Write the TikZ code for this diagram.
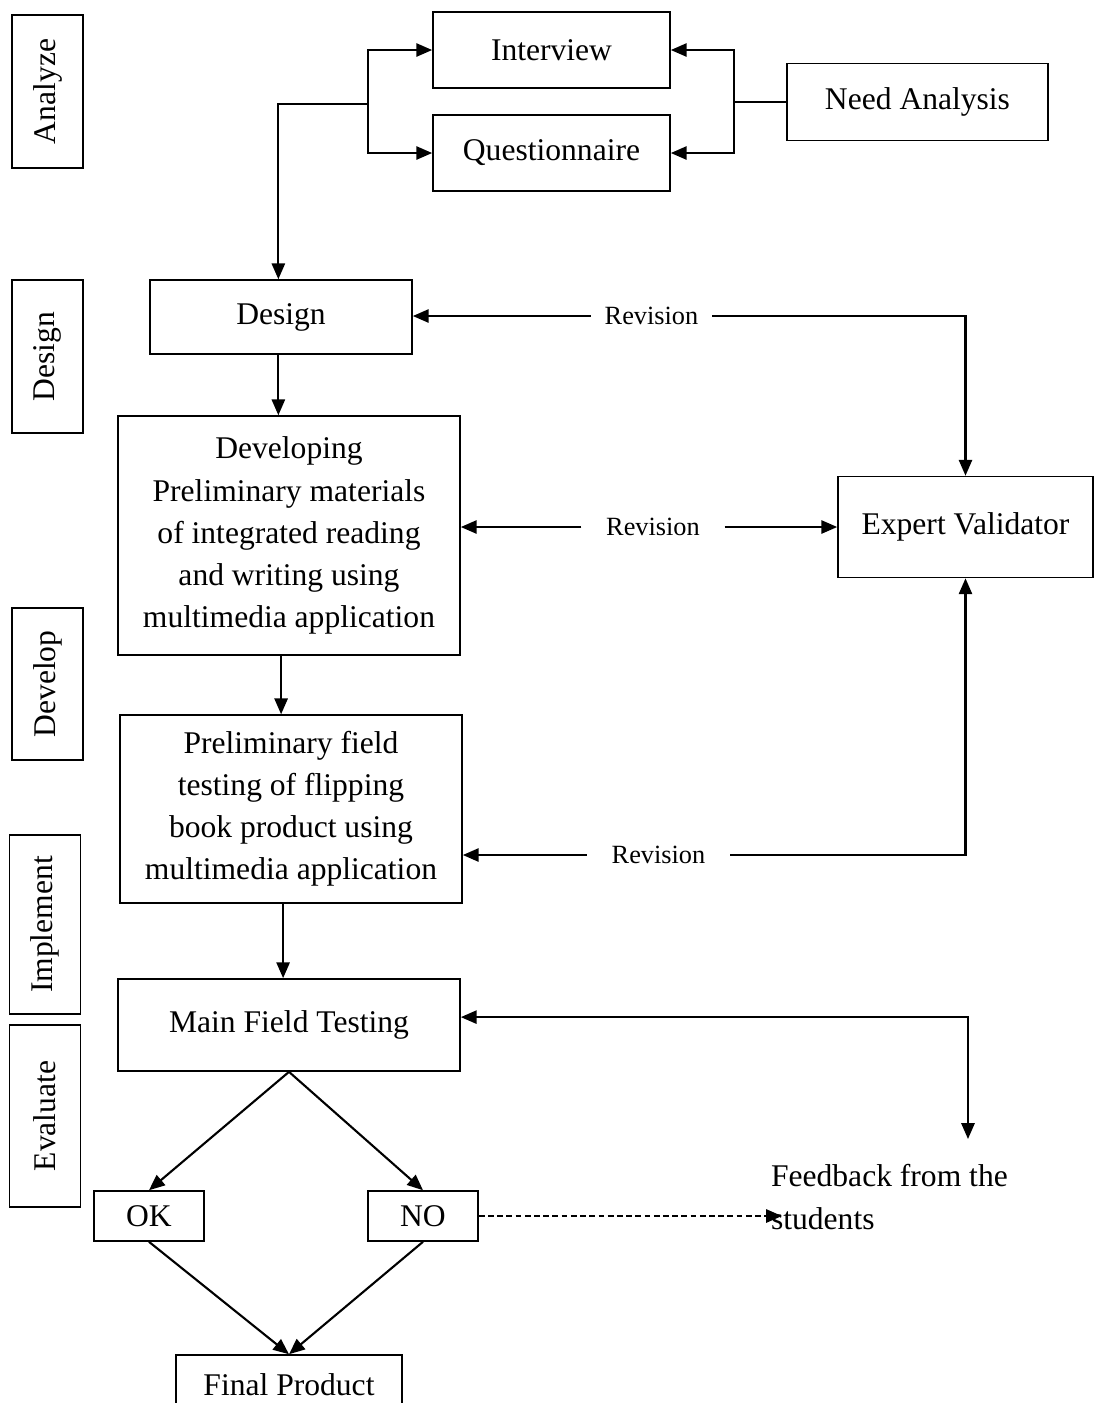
\documentclass[tikz,border=0pt]{standalone}
\usepackage{fontspec}
\setmainfont{Liberation Serif}
\usetikzlibrary{arrows.meta}

\begin{document}
\begin{tikzpicture}[x=0.38pt, y=-0.38pt, line width=0.8pt,
  >={Triangle[length=6pt, width=5pt]},
  box/.style={draw, line width=0.6pt, align=center, inner sep=2pt, font=\fontsize{12}{16}\selectfont},
  phase/.style={draw, line width=0.6pt, rotate=90, minimum height=27pt, inner sep=0pt, font=\fontsize{12}{14}\selectfont},
  revlabel/.style={inner ysep=2pt, inner xsep=9pt, font=\fontsize{10}{12}\selectfont}]
\useasboundingbox (0,0) rectangle (1094,1403);

% phases
  \node[phase, minimum width=58.1pt] (analyzeph) at (47.5,91.5) {Analyze};
  \node[phase, minimum width=58.1pt] (designph) at (47.5,356.5) {Design};
  \node[phase, minimum width=57.8pt] (developph) at (47.5,684) {Develop};
  \node[phase, minimum width=68pt] (implementph) at (45,924.5) {Implement};
  \node[phase, minimum width=69.2pt] (evaluateph) at (45,1116) {Evaluate};

  % analyze
  \node[box, minimum width=90.1pt, minimum height=28.9pt] (interview) at (551.5,50) {Interview};
  \node[box, minimum width=90.1pt, minimum height=28.9pt] (quest) at (551.5,153) {Questionnaire};
  \node[box, minimum width=99.2pt, minimum height=29.3pt] (needs) at (917.5,102) {Need Analysis};
  \coordinate (nfork) at (734,102);
  \coordinate (fork) at (368,104);

\draw (needs.west) -- (nfork);
\draw[->] (nfork) |- (interview.east);
\draw[->] (nfork) |- (quest.east);
\draw[->] (fork) |- (interview.west);
\draw[->] (fork) |- (quest.west);

  % design and develop
  \node[box, minimum width=99.6pt, minimum height=28.1pt] (design) at (281,317) {Design};
  \node[box, minimum width=96.9pt, minimum height=38.4pt] (validator) at (965.5,527) {Expert Validator};
  \node[box, minimum width=130pt, minimum height=90.8pt] (develop) at (289,535.5) {Developing\\Preliminary materials\\of integrated reading\\and writing using\\multimedia application};
  \node[box, minimum width=130pt, minimum height=71.4pt] (prelim) at (291,809) {Preliminary field\\testing of flipping\\book product using\\multimedia application};

\draw[->] (fork) -| ([xshift=-1pt]design.north);
\draw[->] ([xshift=-1pt]design.south) -- ([xshift=-1pt]design.south |- develop.north);
\draw[->] ([xshift=-3pt]develop.south) -- ([xshift=-3pt]develop.south |- prelim.north);

  % revisions
  \node[revlabel, inner xsep=5pt] (rev1) at (651.5,316) {Revision};
  \node[revlabel] (rev2) at (653,527) {Revision};
  \node[revlabel] (rev3) at (658.5,855) {Revision};

\draw[->] (rev1.west) -- (design.east |- rev1.west);
\draw[->] (rev1.east) -| (validator.north);
\draw[->] (rev2.west) -- (develop.east |- rev2.west);
\draw[->] (rev2.east) -- (validator.west);
\draw[->] (rev3.west) -- (prelim.east |- rev3.west);
\draw[->] (rev3.east) -| (validator.south);

  % implement and evaluate
  \node[box, minimum width=130pt, minimum height=35pt] (mainfield) at (289,1025) {Main Field Testing};
  \node[box, minimum width=41.8pt, minimum height=19pt] (ok) at (149,1216) {OK};
  \node[box, minimum width=41.8pt, minimum height=19pt] (no) at (423,1216) {NO};
  \node[box, minimum width=85.9pt, minimum height=22.8pt] (final) at (289,1385) {Final Product};
  \node[align=left, anchor=west, inner sep=0pt, font=\fontsize{12}{16.3}\selectfont] (feedback) at (770,1197) {Feedback from the\\students};
  \coordinate (fbin) at (968,1139);
  \coordinate (fbdash) at (782,1216);

\draw[->] ([xshift=-3pt]prelim.south) -- ([xshift=-3pt]prelim.south |- mainfield.north);
\draw[<->] ([yshift=3pt]mainfield.east) -| (fbin);
\draw[->] (mainfield.south) -- (ok.north);
\draw[->] (mainfield.south) -- (no.north);
\draw[->] (ok.south) -- (final.north);
\draw[->] (no.south) -- (final.north);
\draw[->, dash pattern=on 2.2pt off 1.3pt] (no.east) -- (fbdash);

\end{tikzpicture}
\end{document}
